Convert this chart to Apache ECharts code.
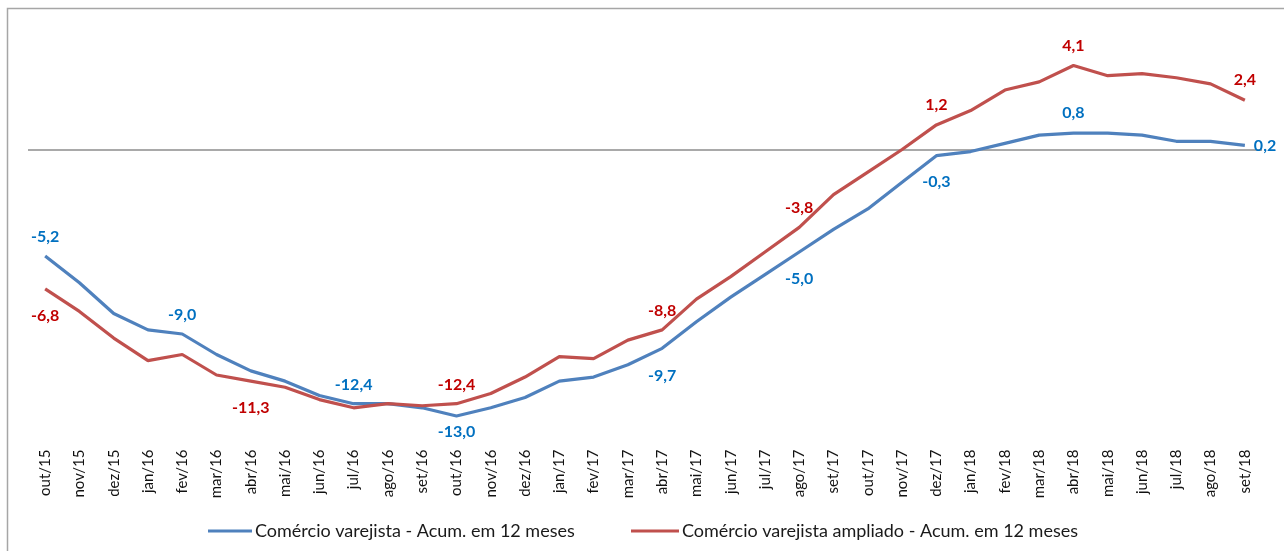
<!DOCTYPE html>
<html>
<head>
<meta charset="utf-8">
<script src="https://cdn.jsdelivr.net/npm/echarts@6/dist/echarts.min.js"></script>
<style>
  html, body { margin: 0; padding: 0; background: #fff; }
  #chart { width: 1284px; height: 551px; }
</style>
</head>
<body>
<div id="chart"></div>
<script>
// Months, Oct/2015 to Sep/2018
const meses = [
  'out/15','nov/15','dez/15','jan/16','fev/16','mar/16','abr/16','mai/16','jun/16','jul/16','ago/16','set/16',
  'out/16','nov/16','dez/16','jan/17','fev/17','mar/17','abr/17','mai/17','jun/17','jul/17','ago/17','set/17',
  'out/17','nov/17','dez/17','jan/18','fev/18','mar/18','abr/18','mai/18','jun/18','jul/18','ago/18','set/18'
];

// Retail trade, accumulated over 12 months (%)
const varejista = [
  -5.2, -6.5, -8.0, -8.8, -9.0, -10.0, -10.8, -11.3, -12.0, -12.4, -12.4, -12.6,
  -13.0, -12.6, -12.1, -11.3, -11.1, -10.5, -9.7, -8.4, -7.2, -6.1, -5.0, -3.9,
  -2.9, -1.6, -0.3, -0.1, 0.3, 0.7, 0.8, 0.8, 0.7, 0.4, 0.4, 0.2
];

// Extended retail trade, accumulated over 12 months (%)
const ampliado = [
  -6.8, -7.9, -9.2, -10.3, -10.0, -11.0, -11.3, -11.6, -12.2, -12.6, -12.4, -12.5,
  -12.4, -11.9, -11.1, -10.1, -10.2, -9.3, -8.8, -7.3, -6.2, -5.0, -3.8, -2.2,
  -1.1, 0.0, 1.2, 1.9, 2.9, 3.3, 4.1, 3.6, 3.7, 3.5, 3.2, 2.4
];

const nomeVarejista = 'Comércio varejista - Acum. em 12 meses';
const nomeAmpliado = 'Comércio varejista ampliado - Acum. em 12 meses';

// Which points carry a value label
const rotulosVarejista = [0, 4, 9, 12, 18, 22, 26, 30, 35];
const rotulosAmpliado = [0, 6, 12, 18, 22, 26, 30, 35];

const fmt = v => v.toFixed(1).replace('.', ',');
const FONT = 'Lato, "Open Sans", sans-serif';

// label placement for the annotated points
const posVarejista = {
  0: ['top', 11], 4: ['top', 11], 9: ['top', 11], 12: ['bottom', 8],
  18: ['bottom', 19], 22: ['bottom', 19], 26: ['bottom', 18], 30: ['top', 12], 35: ['right', 9]
};
const posAmpliado = {
  0: ['bottom', 19], 6: ['bottom', 19], 12: ['top', 11], 18: ['top', 11],
  22: ['top', 12], 26: ['top', 12], 30: ['top', 12], 35: ['top', 12]
};

function buildData(values, labelled, pos, color) {
  return values.map((v, i) => {
    if (labelled.indexOf(i) < 0) return v;
    const p = pos[i];
    return {
      value: v,
      label: {
        show: true, position: p[0], distance: p[1],
        formatter: fmt(v),
        color: color, fontFamily: FONT, fontWeight: 'bold', fontSize: 16
      }
    };
  });
}

const chart = echarts.init(document.getElementById('chart'), null, { renderer: 'canvas' });

chart.setOption({
  animation: false,
  backgroundColor: '#ffffff',
  graphic: [{
    type: 'rect',
    shape: { x: 7.5, y: 8.5, width: 1320, height: 620 },
    style: { fill: 'none', stroke: '#a6a6a6', lineWidth: 1.5 },
    silent: true, z: -1
  }],
  legend: [
    {
      data: [nomeVarejista], left: 203, top: 517,
      icon: 'rect', itemWidth: 44, itemHeight: 3, itemGap: 0,
      textStyle: { fontFamily: FONT, fontSize: 18, color: '#1a1a1a', padding: [0, 0, 0, -2] }
    },
    {
      data: [nomeAmpliado], left: 626, top: 517,
      icon: 'rect', itemWidth: 48, itemHeight: 3, itemGap: 0,
      textStyle: { fontFamily: FONT, fontSize: 18, color: '#1a1a1a', padding: [0, 0, 0, -2] }
    }
  ],
  grid: { left: 28, right: 22, top: 26.5, bottom: 114.5 },
  xAxis: {
    type: 'category',
    data: meses,
    boundaryGap: true,
    axisLine: { show: false, onZero: false },
    axisTick: { show: false },
    axisLabel: {
      rotate: 90, margin: 13, interval: 0,
      fontFamily: FONT, fontSize: 15, color: '#111'
    }
  },
  yAxis: {
    type: 'value', min: -14, max: 6, interval: 2,
    show: false, splitLine: { show: false }
  },
  series: [
    {
      name: nomeVarejista,
      type: 'line',
      data: buildData(varejista, rotulosVarejista, posVarejista, '#0070C0'),
      symbol: 'circle', symbolSize: 0, showSymbol: true,
      lineStyle: { color: '#4F81BD', width: 3.2 },
      itemStyle: { color: '#4F81BD' },
      z: 3,
      markLine: {
        silent: true, symbol: 'none', label: { show: false },
        lineStyle: { color: '#8c8c8c', width: 1.5, type: 'solid' },
        data: [{ yAxis: 0 }],
        z: 1
      }
    },
    {
      name: nomeAmpliado,
      type: 'line',
      data: buildData(ampliado, rotulosAmpliado, posAmpliado, '#C00000'),
      symbol: 'circle', symbolSize: 0, showSymbol: true,
      lineStyle: { color: '#C0504D', width: 3.2 },
      itemStyle: { color: '#C0504D' },
      z: 3
    }
  ]
});
</script>
</body>
</html>
